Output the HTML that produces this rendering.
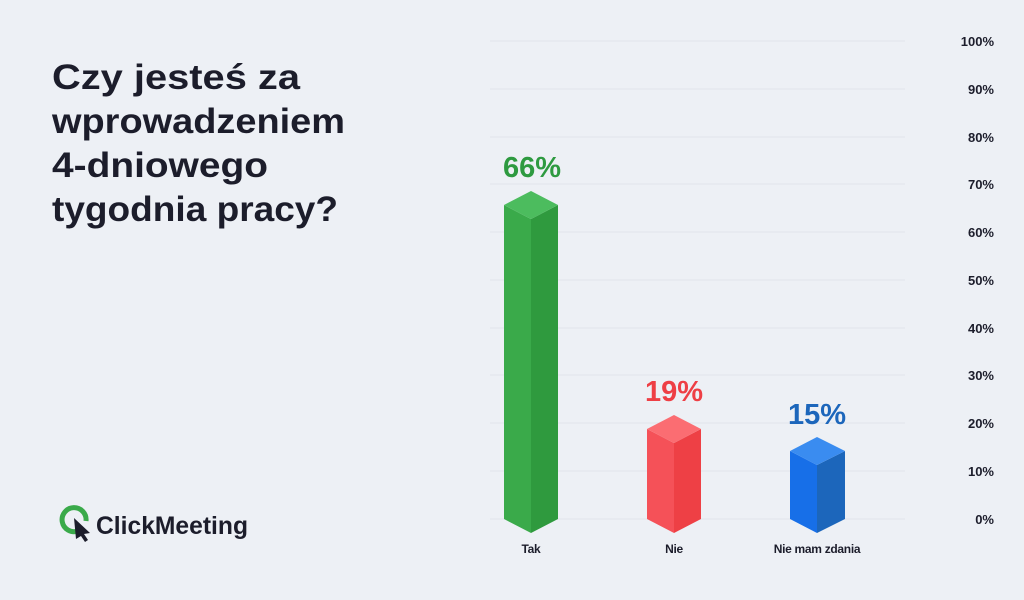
<!DOCTYPE html>
<html><head><meta charset="utf-8"><style>
body{margin:0;width:1024px;height:600px;background:#edf0f5;overflow:hidden;font-family:"Liberation Sans",sans-serif;}
</style></head><body>
<svg width="1024" height="600" viewBox="0 0 1024 600" xmlns="http://www.w3.org/2000/svg" style="position:absolute;left:0;top:0">
<g stroke="#e5e8ee" stroke-width="1.5">
<line x1="490" x2="905" y1="41" y2="41"/><line x1="490" x2="905" y1="89" y2="89"/><line x1="490" x2="905" y1="137" y2="137"/><line x1="490" x2="905" y1="184" y2="184"/><line x1="490" x2="905" y1="232" y2="232"/><line x1="490" x2="905" y1="280" y2="280"/><line x1="490" x2="905" y1="328" y2="328"/><line x1="490" x2="905" y1="375" y2="375"/><line x1="490" x2="905" y1="423" y2="423"/><line x1="490" x2="905" y1="471" y2="471"/><line x1="490" x2="905" y1="519" y2="519"/>
</g>
<g font-weight="bold" font-size="13" fill="#1c1d2b" text-anchor="end">
<text x="994" y="46">100%</text><text x="994" y="94">90%</text><text x="994" y="142">80%</text><text x="994" y="189">70%</text><text x="994" y="237">60%</text><text x="994" y="285">50%</text><text x="994" y="333">40%</text><text x="994" y="380">30%</text><text x="994" y="428">20%</text><text x="994" y="476">10%</text><text x="994" y="524">0%</text>
</g>
<polygon points="504,205 531,219 531,533 504,519" fill="#3aaa4a"/>
<polygon points="558,205 531,219 531,533 558,519" fill="#2f9a3e"/>
<polygon points="504,205 531,191 558,205 531,219" fill="#4cbc5e"/>
<polygon points="647,429 674,443 674,533 647,519" fill="#f55158"/>
<polygon points="701,429 674,443 674,533 701,519" fill="#ee4045"/>
<polygon points="647,429 674,415 701,429 674,443" fill="#fb6d72"/>
<polygon points="790,451 817,465 817,533 790,519" fill="#176fe8"/>
<polygon points="845,451 817,465 817,533 845,519" fill="#1c66bb"/>
<polygon points="790,451 817,437 845,451 817,465" fill="#3a8cf0"/>
<g font-weight="bold" font-size="29" text-anchor="middle">
<text x="532" y="177" fill="#2e9a40">66%</text>
<text x="674" y="401" fill="#ee3f45">19%</text>
<text x="817" y="424" fill="#1c66bb">15%</text>
</g>
<g font-weight="bold" font-size="12" fill="#1c1d2b" text-anchor="middle" letter-spacing="-0.3">
<text x="531" y="553">Tak</text><text x="674" y="553">Nie</text><text x="817" y="553">Nie mam zdania</text>
</g>
<g font-weight="bold" font-size="35" fill="#1c1d2b" lengthAdjust="spacingAndGlyphs">
<text x="52" y="89" textLength="248" lengthAdjust="spacingAndGlyphs">Czy jesteś za</text>
<text x="52" y="133" textLength="293" lengthAdjust="spacingAndGlyphs">wprowadzeniem</text>
<text x="52" y="177" textLength="216" lengthAdjust="spacingAndGlyphs">4-dniowego</text>
<text x="52" y="221" textLength="286" lengthAdjust="spacingAndGlyphs">tygodnia pracy?</text>
</g>
<path d="M78,531 A12,12 0 1 1 86,521" fill="none" stroke="#3aaa4a" stroke-width="5"/>
<polygon points="74,518 90,533 84,534 88,540 85,542 81,536 76,539" fill="#1c1d2b"/>
<text x="96" y="534" font-weight="bold" font-size="25" fill="#1c1d2b" textLength="152" lengthAdjust="spacingAndGlyphs">ClickMeeting</text>
</svg>
</body></html>
